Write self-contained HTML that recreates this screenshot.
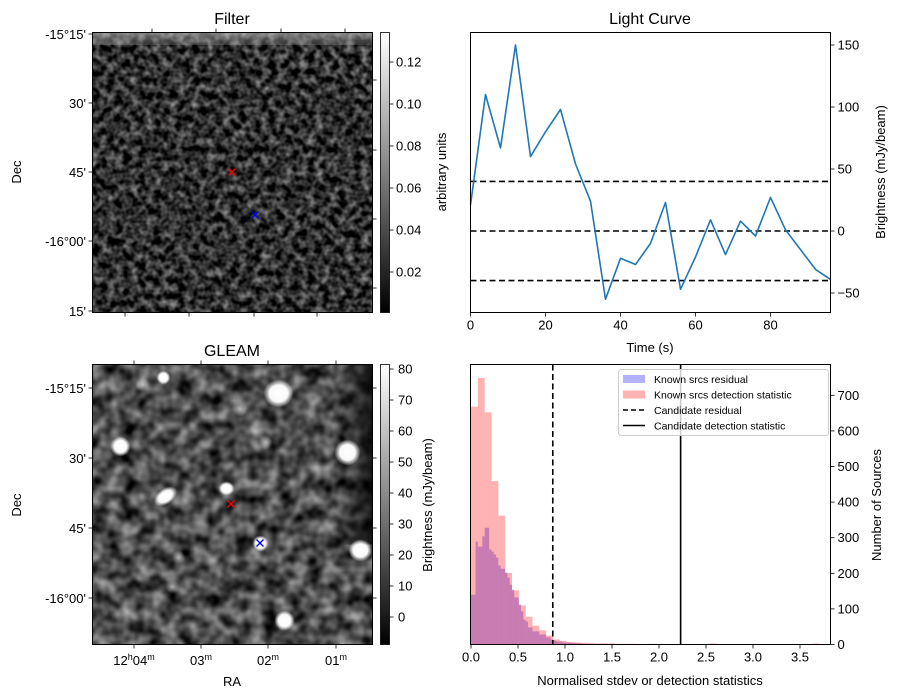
<!DOCTYPE html>
<html><head><meta charset="utf-8">
<style>
body{margin:0;background:#fff;}
svg{display:block;font-family:"Liberation Sans","DejaVu Sans",sans-serif;}
</style></head>
<body>
<svg id="fig" width="898" height="699" viewBox="0 0 898 699" xmlns="http://www.w3.org/2000/svg">
<defs>
<filter id="noise1" x="0" y="0" width="1" height="1" color-interpolation-filters="sRGB">
<feTurbulence type="fractalNoise" baseFrequency="0.13" numOctaves="2" seed="7"/>
<feColorMatrix type="matrix" values="1 0 0 0 0 1 0 0 0 0 1 0 0 0 0 0 0 0 0 1"/>
<feComponentTransfer><feFuncR type="linear" slope="1.0" intercept="-0.31"/><feFuncG type="linear" slope="1.0" intercept="-0.31"/><feFuncB type="linear" slope="1.0" intercept="-0.31"/></feComponentTransfer>
</filter>
<filter id="noise2" x="0" y="0" width="1" height="1" color-interpolation-filters="sRGB">
<feTurbulence type="fractalNoise" baseFrequency="0.07" numOctaves="2" seed="11"/>
<feColorMatrix type="matrix" values="1 0 0 0 0 1 0 0 0 0 1 0 0 0 0 0 0 0 0 1"/>
<feComponentTransfer><feFuncR type="linear" slope="0.95" intercept="-0.17"/><feFuncG type="linear" slope="0.95" intercept="-0.17"/><feFuncB type="linear" slope="0.95" intercept="-0.17"/></feComponentTransfer>
</filter>
<radialGradient id="blob"><stop offset="0" stop-color="#fff" stop-opacity="1"/><stop offset="0.6" stop-color="#fff" stop-opacity="0.97"/><stop offset="1" stop-color="#fff" stop-opacity="0"/></radialGradient>
<radialGradient id="dimblob"><stop offset="0" stop-color="#ccc" stop-opacity="0.8"/><stop offset="1" stop-color="#ccc" stop-opacity="0"/></radialGradient>
<linearGradient id="cbar" x1="0" y1="1" x2="0" y2="0"><stop offset="0" stop-color="#000"/><stop offset="1" stop-color="#fff"/></linearGradient>
<linearGradient id="rightdark" x1="0" y1="0" x2="1" y2="0"><stop offset="0" stop-color="#000" stop-opacity="0"/><stop offset="1" stop-color="#000" stop-opacity="0.75"/></linearGradient>
<linearGradient id="topstrip" x1="0" y1="0" x2="0" y2="1"><stop offset="0" stop-color="#bbb" stop-opacity="0.6"/><stop offset="1" stop-color="#999" stop-opacity="0.3"/></linearGradient>
</defs>

<g>
<text x="232" y="24" font-size="16" text-anchor="middle">Filter</text>
<rect x="92.5" y="32.5" width="280" height="280" filter="url(#noise1)"/>
<rect x="93" y="33" width="279" height="12" fill="url(#topstrip)"/>
<rect x="92.5" y="32.5" width="280" height="280" fill="none" stroke="#000" stroke-width="1"/>
<g stroke="red" stroke-width="1.3"><line x1="228.5" y1="168.5" x2="235.5" y2="175.5"/><line x1="235.5" y1="168.5" x2="228.5" y2="175.5"/></g>
<g stroke="blue" stroke-width="1.3"><line x1="251.5" y1="211.5" x2="258.5" y2="218.5"/><line x1="258.5" y1="211.5" x2="251.5" y2="218.5"/></g>
<g id="filterTicks" stroke="#000" stroke-width="0.8"></g>
<g font-size="13" text-anchor="end">
<text x="86" y="39">-15°15'</text><text x="86" y="108">30'</text><text x="86" y="177">45'</text><text x="86" y="246">-16°00'</text><text x="86" y="316">15'</text>
</g>
<text transform="translate(21,172) rotate(-90)" font-size="13" text-anchor="middle">Dec</text>
<rect x="380.5" y="32.5" width="9" height="280" fill="url(#cbar)" stroke="#000" stroke-width="0.8"/>
<g id="cb1" font-size="13"></g>
<text transform="translate(446,172) rotate(-90)" font-size="13" text-anchor="middle">arbitrary units</text>
</g>

<g>
<text x="232" y="356" font-size="16" text-anchor="middle">GLEAM</text>
<svg x="92.5" y="364.5" width="280" height="280" overflow="hidden">
<rect x="0" y="0" width="280" height="280" filter="url(#noise2)"/>
<rect x="240" y="0" width="40" height="180" fill="url(#rightdark)"/>
<g id="blobs"></g>
</svg>
<rect x="92.5" y="364.5" width="280" height="280" fill="none" stroke="#000" stroke-width="1"/>
<g stroke="red" stroke-width="1.3"><line x1="227.5" y1="500.5" x2="234.5" y2="507.5"/><line x1="234.5" y1="500.5" x2="227.5" y2="507.5"/></g>
<g stroke="blue" stroke-width="1.3"><line x1="256.5" y1="539.5" x2="263.5" y2="546.5"/><line x1="263.5" y1="539.5" x2="256.5" y2="546.5"/></g>
<g id="gleamTicks" stroke="#000" stroke-width="0.8"></g>
<g font-size="13" text-anchor="end">
<text x="86" y="393">-15°15'</text><text x="86" y="463">30'</text><text x="86" y="533">45'</text><text x="86" y="603">-16°00'</text>
</g>
<g font-size="13" text-anchor="middle">
<text x="134" y="665">12<tspan font-size="9" dy="-5">h</tspan><tspan dy="5">04</tspan><tspan font-size="9" dy="-5">m</tspan></text>
<text x="201" y="665">03<tspan font-size="9" dy="-5">m</tspan></text>
<text x="268" y="665">02<tspan font-size="9" dy="-5">m</tspan></text>
<text x="336" y="665">01<tspan font-size="9" dy="-5">m</tspan></text>
</g>
<text x="232" y="686" font-size="13" text-anchor="middle">RA</text>
<text transform="translate(21,505) rotate(-90)" font-size="13" text-anchor="middle">Dec</text>
<rect x="380.5" y="364.5" width="9" height="280" fill="url(#cbar)" stroke="#000" stroke-width="0.8"/>
<g id="cb2" font-size="13"></g>
<text transform="translate(432,505) rotate(-90)" font-size="13" text-anchor="middle">Brightness (mJy/beam)</text>
</g>

<g id="lc">
<text x="650" y="24" font-size="16" text-anchor="middle">Light Curve</text>
</g>
<g id="hist"></g>
</svg>

<script>
// ---- Light curve data ----
const lcTimes = [0,4,8,12,16,20,24,28,32,36,40,44,48,52,56,60,64,68,72,76,80,84,88,92,96];
const lcFlux = [21,110,67,150,60,80,98,54,24,-55,-22,-27,-10,23,-47,-21,9,-19,8,-4,27,1,-15,-31,-39];
const lcThresholds = [40,0,-40];
const lcXTicks = [0,20,40,60,80];
const lcYTicks = [-50,0,50,100,150];

// ---- Histogram data ----
const redBinWidth = 0.0727;
const redCounts = [668,749,652,459,362,201,152,110,78,53,40,25,14,10,7,6,5,4,3,3,3,2,2,2,1,1,2,1,1,1,1,1,1,1,1,3,1,1,1,1,1,1,1,1,1,1,1,1,1,1,3];
const blueBinWidth = 0.0242;
const blueCounts = [140,140,289,275,275,304,328,328,267,261,253,244,222,213,213,202,188,168,154,132,132,112,93,70,65,48,48,37,37,37,28,28,28,20,20,14,12,10,8,8,6,6,5,5,4,4,3,3,3,2,2,2,2,1,1,1,1,1,1,1];
const candResidual = 0.87;
const candDetection = 2.23;
const histXTicks = [0,0.5,1.0,1.5,2.0,2.5,3.0,3.5];
const histYTicks = [0,100,200,300,400,500,600,700];

// ---- Colorbar ticks ----
const cb1Ticks = [0.02,0.04,0.06,0.08,0.10,0.12];
const cb2Ticks = [0,10,20,30,40,50,60,70,80];

const NS='http://www.w3.org/2000/svg';
function mk(tag, attrs, parent){const e=document.createElementNS(NS,tag);for(const k in attrs)e.setAttribute(k,attrs[k]);parent.appendChild(e);return e;}

const lcL=470.5,lcR=830.5,lcT=32.5,lcB=312.5;
const lcX=t=>lcL+(t-0)/(96-0)*(lcR-lcL);
const lcY=v=>231-v*1.24;
const lc=document.getElementById('lc');
lcThresholds.forEach(v=>{
  const l=mk('line',{x1:lcL,x2:lcR,y1:lcY(v),y2:lcY(v),stroke:'#000','stroke-width':1.6,'stroke-dasharray':'6,3.5'},lc);
  
  
});
const pts=lcTimes.map((t,i)=>lcX(t).toFixed(1)+','+lcY(lcFlux[i]).toFixed(1)).join(' ');
const pl=mk('polyline',{points:pts,fill:'none',stroke:'#1f77b4','stroke-width':1.6,'stroke-linejoin':'round'},lc);


mk('rect',{x:lcL,y:lcT,width:lcR-lcL,height:lcB-lcT,fill:'none',stroke:'#000','stroke-width':1},lc);
lcXTicks.forEach(t=>{
  mk('line',{x1:lcX(t),x2:lcX(t),y1:lcB,y2:lcB+4,stroke:'#000','stroke-width':0.8},lc);
  const tx=mk('text',{x:lcX(t),y:lcB+17,'font-size':13,'text-anchor':'middle'},lc);tx.textContent=t;
  
  
});
lcYTicks.forEach(v=>{
  mk('line',{x1:lcR,x2:lcR+4,y1:lcY(v),y2:lcY(v),stroke:'#000','stroke-width':0.8},lc);
  const tx=mk('text',{x:lcR+7,y:lcY(v)+4.5,'font-size':13},lc);tx.textContent=v<0?'\u2212'+(-v):v;
  
  
});
let t1=mk('text',{x:650,y:352,'font-size':13,'text-anchor':'middle'},lc);t1.textContent='Time (s)';


let t2=mk('text',{transform:'translate(885,172) rotate(-90)','font-size':13,'text-anchor':'middle'},lc);t2.textContent='Brightness (mJy/beam)';



const hL=470.5,hR=830.5,hT=364.5,hB=644.5;
const hX=v=>471+v*94;
const hY=c=>hB-c*0.356;
const hist=document.getElementById('hist');
blueCounts.forEach((c,i)=>{
  const x0=hX(i*blueBinWidth),x1=hX((i+1)*blueBinWidth);
  const r=mk('rect',{x:x0,y:hY(c),width:x1-x0+0.05,height:hB-hY(c),fill:'blue','fill-opacity':0.3},hist);
  
  
});
redCounts.forEach((c,i)=>{
  const x0=hX(i*redBinWidth),x1=hX((i+1)*redBinWidth);
  const r=mk('rect',{x:x0,y:hY(c),width:x1-x0,height:hB-hY(c),fill:'red','fill-opacity':0.3},hist);
  
  
});
let cl=mk('line',{x1:hX(candResidual),x2:hX(candResidual),y1:hT,y2:hB,stroke:'#000','stroke-width':1.6,'stroke-dasharray':'6,3.5'},hist);


let cd=mk('line',{x1:hX(candDetection),x2:hX(candDetection),y1:hT,y2:hB,stroke:'#000','stroke-width':1.6},hist);


mk('rect',{x:hL,y:hT,width:hR-hL,height:hB-hT,fill:'none',stroke:'#000','stroke-width':1},hist);
histXTicks.forEach(v=>{
  mk('line',{x1:hX(v),x2:hX(v),y1:hB,y2:hB+4,stroke:'#000','stroke-width':0.8},hist);
  const tx=mk('text',{x:hX(v),y:hB+17,'font-size':13,'text-anchor':'middle'},hist);tx.textContent=v.toFixed(1);
  
  
});
histYTicks.forEach(v=>{
  mk('line',{x1:hR,x2:hR+4,y1:hY(v),y2:hY(v),stroke:'#000','stroke-width':0.8},hist);
  const tx=mk('text',{x:hR+7,y:hY(v)+4.5,'font-size':13},hist);tx.textContent=v;
  
  
});
let t3=mk('text',{x:650,y:685,'font-size':13,'text-anchor':'middle'},hist);t3.textContent='Normalised stdev or detection statistics';


let t4=mk('text',{transform:'translate(881,505) rotate(-90)','font-size':13,'text-anchor':'middle'},hist);t4.textContent='Number of Sources';


const lg=mk('g',{},hist);


mk('rect',{x:618.5,y:369.5,width:210,height:66,rx:3,fill:'#fff','fill-opacity':0.8,stroke:'#ccc'},lg);
const entries=[['Known srcs residual','blue'],['Known srcs detection statistic','red'],['Candidate residual','dash'],['Candidate detection statistic','solid']];
entries.forEach((e,i)=>{
  const y=379+i*15.5;
  const g=mk('g',{},lg);
  
  
  if(e[1]==='blue'||e[1]==='red') mk('rect',{x:623,y:y-4,width:22,height:8,fill:e[1],'fill-opacity':0.3},g);
  else mk('line',{x1:623,x2:645,y1:y,y2:y,stroke:'#000','stroke-width':1.6,'stroke-dasharray':e[1]==='dash'?'5,3':'none'},g);
  const tx=mk('text',{x:654,y:y+4,'font-size':10.5},g);tx.textContent=e[0];
});

const cb1=document.getElementById('cb1');
cb1Ticks.forEach(v=>{
  const y=272-(v-0.02)/0.02*42;
  mk('line',{x1:389.5,x2:393.5,y1:y,y2:y,stroke:'#000','stroke-width':0.8},cb1);
  const tx=mk('text',{x:396,y:y+4.5},cb1);tx.textContent=v.toFixed(2);
  
  
});
const cb2=document.getElementById('cb2');
cb2Ticks.forEach(v=>{
  const y=617-v*3.1;
  mk('line',{x1:389.5,x2:393.5,y1:y,y2:y,stroke:'#000','stroke-width':0.8},cb2);
  const tx=mk('text',{x:398,y:y+4.5},cb2);tx.textContent=v;
  
  
});

function ticks(gid,top,bot,left,right,topX,botX,leftY,rightY){
  const g=document.getElementById(gid);
  topX.forEach(x=>mk('line',{x1:x,x2:x,y1:top,y2:top-4},g));
  botX.forEach(x=>mk('line',{x1:x,x2:x,y1:bot,y2:bot+4},g));
  leftY.forEach(y=>mk('line',{x1:left,x2:left-4,y1:y,y2:y},g));
  rightY.forEach(y=>mk('line',{x1:right,x2:right+4,y1:y,y2:y},g));
}
ticks('filterTicks',32.5,312.5,92.5,372.5,[152,216,281,345],[125,189,254,317],[34,103,172,241,311],[80,150,219,288]);
ticks('gleamTicks',364.5,644.5,92.5,372.5,[134,201,268,336],[134,201,268,336],[388,458,528,598],[388,458,528,598]);

const blobsG=document.getElementById('blobs');
[[71,13,7,7,0],[186,29,15,14,0],[147,44,8,8,1],[28,82,10,10,0],[255,88,13,13,0],[134,124,8,7,0],[73,132,13,8,0],[168,179,8,8,0],[268,186,12,11,0],[86,193,7,7,1],[80,222,7,7,1],[192,256,10,10,0],[50,20,7,7,1],[173,78,7,7,1]].forEach(b=>{
  const e=mk('ellipse',{cx:b[0],cy:b[1],rx:b[2],ry:b[3],fill:b[4]?'url(#dimblob)':'url(#blob)',transform:(b[2]>b[3]+2&&b[0]<100)?`rotate(-35 ${b[0]} ${b[1]})`:''},blobsG);
  
  
});
</script>
</body></html>
